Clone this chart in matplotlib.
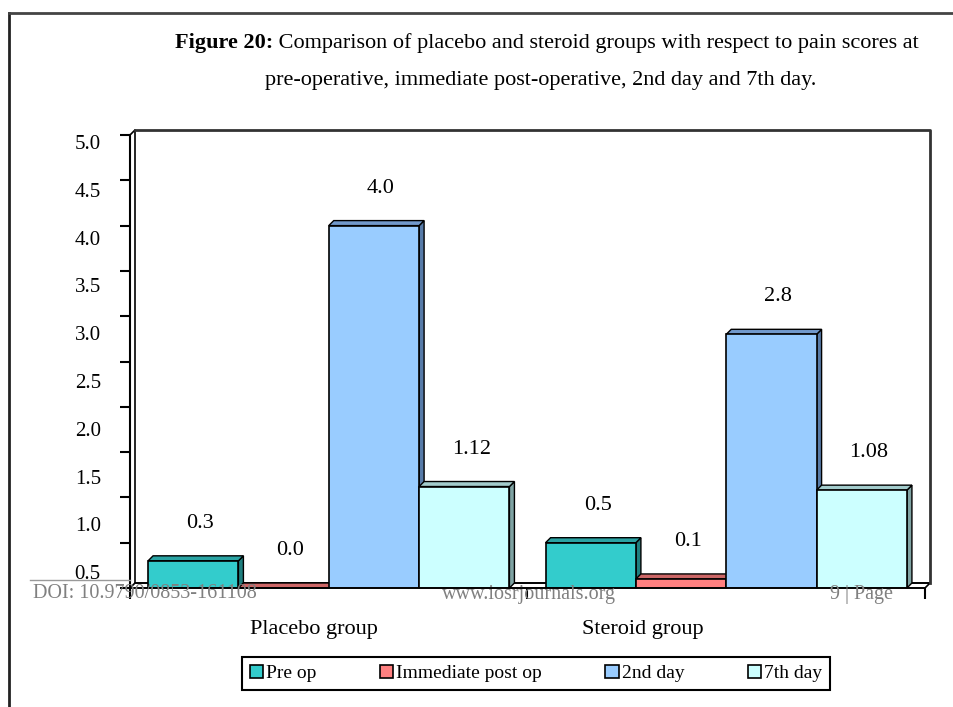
import numpy as np
import matplotlib.pyplot as plt
from matplotlib.patches import Polygon, Patch
from matplotlib.lines import Line2D
from matplotlib.transforms import ScaledTranslation

plt.rcParams['font.family'] = ['Liberation Serif', 'DejaVu Serif']

groups = ['Placebo group', 'Steroid group']
series = ['Pre op', 'Immediate post op', '2nd day', '7th day']
pre_op = [0.3, 0.5]
immediate = [0.0, 0.1]
day2 = [4.0, 2.8]
day7 = [1.12, 1.08]
values = [pre_op, immediate, day2, day7]
ytick_vals = np.arange(0, 5.01, 0.5)

front_col = ['#33CCCC', '#FF8080', '#99CCFF', '#CCFFFF']
top_col = ['#2AA3A3', '#CC6666', '#7199CC', '#A3CCCC']
side_col = ['#1F7F7F', '#A04F4F', '#577BA8', '#7FA3A3']

W, H = 954, 707
fig = plt.figure(figsize=(W / 100, H / 100), dpi=100)
ax = fig.add_axes([130 / W, (H - 588) / H, 795 / W, 453 / H])
xmin, xmax = -2.2, 6.6
ax.set_xlim(xmin, xmax)
ax.set_ylim(0, 5)

# depth of the fake 3d effect, 5 px both ways
dx = 5 / (795 / (xmax - xmin))
dy = 5 / (453 / 5)

centers = np.array([0, 4.4])
bw = 1.0

# floor and back wall
floor = Polygon([(xmin, 0), (xmax, 0), (xmax + dx, dy), (xmin + dx, dy)],
                closed=True, fc='white', ec='black', lw=1.2, clip_on=False, zorder=1)
ax.add_patch(floor)
ax.plot([xmin, xmin + dx, xmin + dx, xmax + dx, xmax + dx],
        [5, 5 + dy, dy, dy, dy], color='black', lw=1.2, clip_on=False, zorder=1)
ax.plot([xmin + dx, xmax + dx, xmax + dx], [5 + dy, 5 + dy, dy],
        color='#333333', lw=2, clip_on=False, zorder=1)

z = 2
for g, c in enumerate(centers):
    for i, vals in enumerate(values):
        v = vals[g]
        x0 = c + (i - 1.5) * bw - bw / 2
        x1 = x0 + bw
        top = Polygon([(x0, v), (x1, v), (x1 + dx, v + dy), (x0 + dx, v + dy)],
                      closed=True, fc=top_col[i], ec='black', lw=1, zorder=z, clip_on=False)
        side = Polygon([(x1, 0), (x1 + dx, dy), (x1 + dx, v + dy), (x1, v)],
                       closed=True, fc=side_col[i], ec='black', lw=1, zorder=z, clip_on=False)
        ax.add_patch(side)
        ax.add_patch(top)
        ax.bar(x0, v, width=bw, align='edge', color=front_col[i], edgecolor='black',
               lw=1.2, zorder=z + 0.005)
        lab = '%.1f' % v if round(v, 1) == v else '%.2f' % v
        ax.annotate(lab, (x0 + bw / 2, v), xytext=(5, 27), textcoords='offset points',
                    ha='center', va='center', fontsize=16, zorder=50)
        z += 0.01

for s in ['top', 'right']:
    ax.spines[s].set_visible(False)
ax.spines['left'].set_linewidth(1.5)
ax.spines['bottom'].set_linewidth(1.2)

ax.set_yticks(ytick_vals)
ax.set_yticklabels([''] + ['%.1f' % t for t in ytick_vals[1:]], fontsize=15)
ax.tick_params(axis='y', direction='out', length=7, width=1.5, pad=14)
# the printed labels sit a bit lower than their ticks
for t, lbl in zip(ytick_vals, ax.get_yticklabels()):
    off = 7 + (5 - t) * 5
    lbl.set_transform(lbl.get_transform() + ScaledTranslation(0, -off / 100, fig.dpi_scale_trans))

ax.set_xticks([xmin, (xmin + xmax) / 2, xmax])
ax.set_xticklabels([])
ax.tick_params(axis='x', direction='out', length=8, width=1.5)

grp_shift = [-15, -83]
for c, name, sh in zip(centers, groups, grp_shift):
    ax.annotate(name, (c, 0), xytext=(sh * 0.72, -30), textcoords='offset points',
                ha='center', va='center', fontsize=16, annotation_clip=False)

# title, bold lead-in followed by plain text
t1 = fig.text(175 / W, 1 - 48 / H, 'Figure 20:', fontsize=16, fontweight='bold',
              ha='left', va='baseline')
ax.annotate(' Comparison of placebo and steroid groups with respect to pain scores at',
            xy=(1, 0), xycoords=t1, ha='left', va='bottom', fontsize=16,
            annotation_clip=False)
fig.text(541 / W, 1 - 85 / H, 'pre-operative, immediate post-operative, 2nd day and 7th day.',
         fontsize=16, ha='center', va='baseline')

# page footer that shows through the scan
fig.add_artist(Line2D([30 / W, 130 / W], [1 - 580 / H] * 2, color='#999999', lw=1))
fig.text(33 / W, 1 - 594 / H, 'DOI: 10.9790/0853-161108', color='#808080',
         fontsize=14.5, ha='left', va='center')
fig.text(529 / W, 1 - 594 / H, 'www.iosrjournals.org', color='#808080',
         fontsize=14.5, ha='center', va='center')
fig.text(893 / W, 1 - 594 / H, '9 | Page', color='#808080',
         fontsize=14.5, ha='right', va='center')

# outer border
fig.add_artist(Line2D([9 / W, 9 / W], [0, 1 - 13 / H], color='#222222', lw=2))
fig.add_artist(Line2D([9 / W, 1], [1 - 13 / H] * 2, color='#444444', lw=2))

handles = [Patch(fc=front_col[i], ec='black', lw=1.2) for i in range(4)]
leg = fig.legend(handles, series, loc='center', ncol=4, mode='expand',
                 bbox_to_anchor=(242 / W, (H - 696) / H, 588 / W, 45 / H),
                 fontsize=14, handlelength=0.7, handleheight=0.7, handletextpad=0.15,
                 fancybox=False, edgecolor='black', borderaxespad=0, framealpha=1)
leg.get_frame().set_linewidth(1.5)

fig.savefig('out.png', dpi=100)
